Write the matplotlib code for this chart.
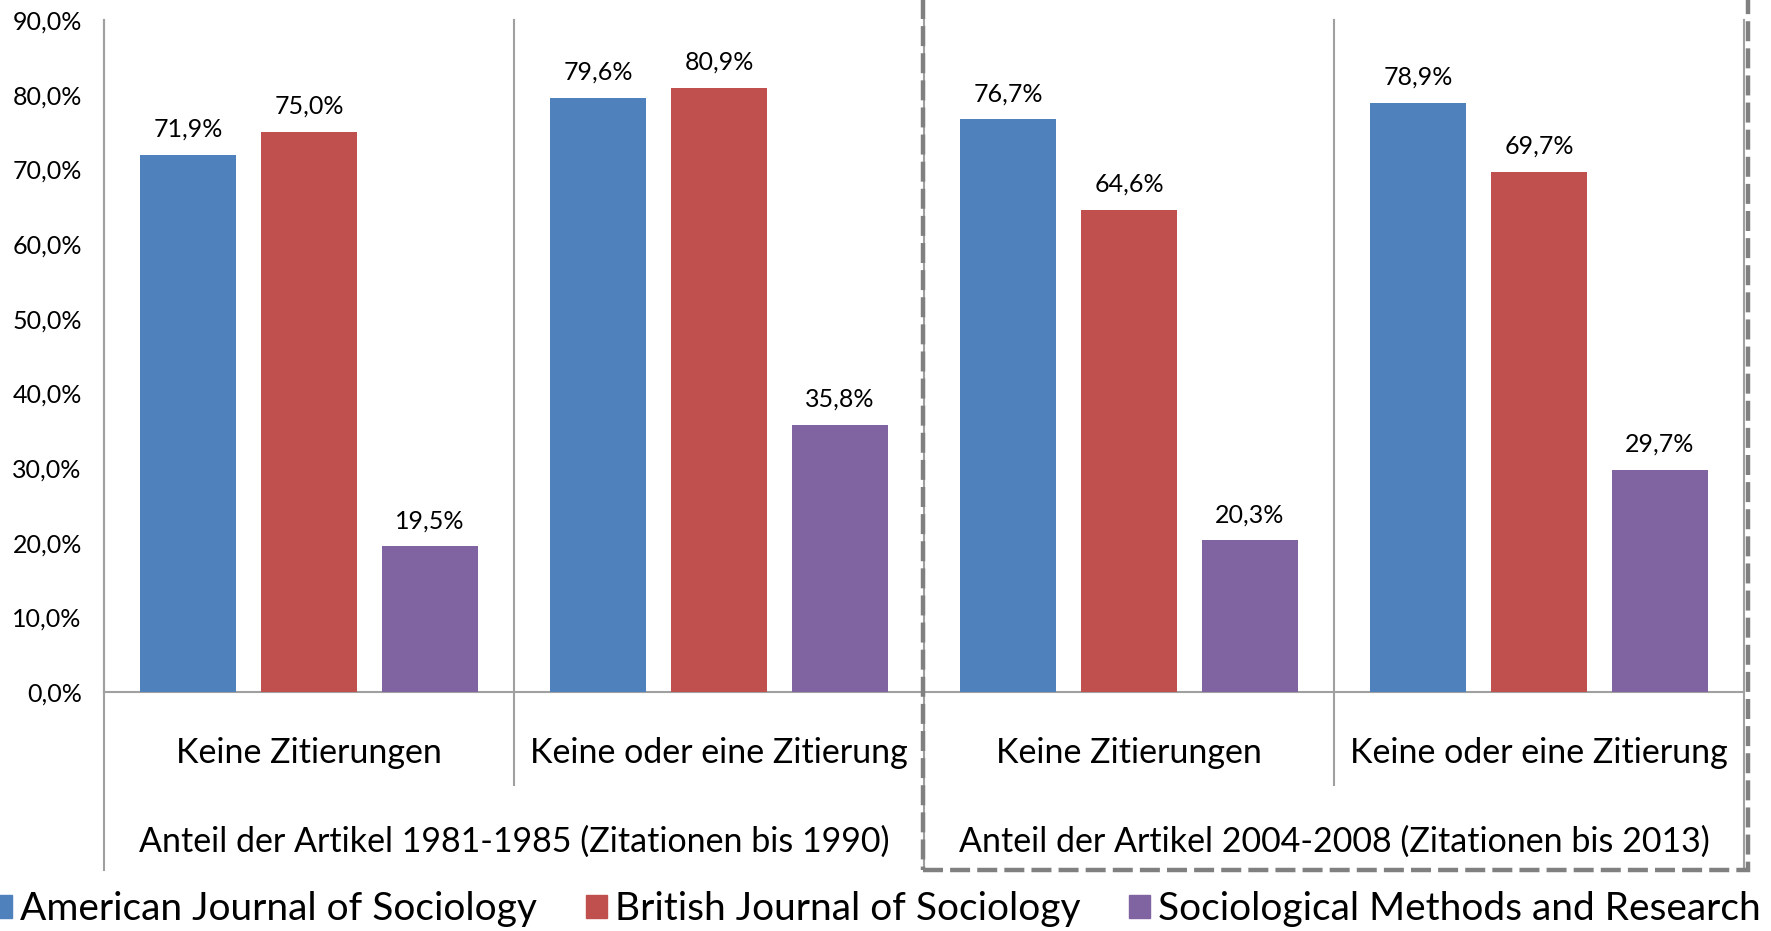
import numpy as np
import matplotlib.pyplot as plt
from matplotlib.patches import Rectangle, Patch
from matplotlib.transforms import blended_transform_factory

plt.rcParams['font.family'] = ['Lato', 'DejaVu Sans']

# data
categories = ['Keine Zitierungen', 'Keine oder eine Zitierung',
              'Keine Zitierungen', 'Keine oder eine Zitierung']
groups = ['Anteil der Artikel 1981-1985 (Zitationen bis 1990)',
          'Anteil der Artikel 2004-2008 (Zitationen bis 2013)']
series = ['American Journal of Sociology', 'British Journal of Sociology',
          'Sociological Methods and Research']
ajs = [71.9, 79.6, 76.7, 78.9]
bjs = [75.0, 80.9, 64.6, 69.7]
smr = [19.5, 35.8, 20.3, 29.7]
colors = ['#4F81BD', '#C0504D', '#8064A2']

W, H = 1771, 931
fig = plt.figure(figsize=(W / 100, H / 100), dpi=100)
ax = fig.add_axes([104 / W, 1 - 692 / H, (1744 - 104) / W, (692 - 20) / H])

x = np.arange(len(categories)) + 0.5
offsets = [-0.295, 0, 0.295]
for vals, off, c in zip([ajs, bjs, smr], offsets, colors):
    bars = ax.bar(x + off, vals, width=0.234, color=c, zorder=3)
    for b, v in zip(bars, vals):
        ax.text(b.get_x() + b.get_width() / 2, v + 1.9, f'{v:.1f}%'.replace('.', ','),
                ha='center', va='bottom', fontsize=18)

ax.set_xlim(0, 4)
ax.set_ylim(0, 90)
ax.set_yticks(np.arange(0, 91, 10))
ax.set_yticklabels([f'{t:.1f}%'.replace('.', ',') for t in np.arange(0, 91, 10)])
ax.tick_params(axis='y', length=0, pad=16, labelsize=18)
ax.set_xticks([])
for s in ['top', 'right']:
    ax.spines[s].set_visible(False)
for s in ['left', 'bottom']:
    ax.spines[s].set_color('#A0A0A0')
    ax.spines[s].set_linewidth(1.5)

# category axis separators (multi-level)
tr = blended_transform_factory(ax.transData, ax.transAxes)
for xs, ybot in [(0, -0.265), (1, -0.138), (2, -0.265), (3, -0.138), (4, -0.265)]:
    ax.plot([xs, xs], [ybot, 1], transform=tr, color='#A0A0A0', lw=1.5,
            clip_on=False, zorder=1)

for xi, lab in zip(x, categories):
    ax.text(xi, -0.091, lab, transform=tr, ha='center', va='center', fontsize=24.5)
for gi, lab in enumerate(groups):
    ax.text(1 + 2 * gi, -0.223, lab, transform=tr, ha='center', va='center', fontsize=24.5)

# dashed highlight box
fig.patches.append(Rectangle((923 / W, 1 - 870 / H), (1748 - 923) / W, 880 / H,
                             transform=fig.transFigure, fill=False, edgecolor='#808080',
                             lw=3.2, linestyle=(0, (4.5, 1.6)), zorder=5))

handles = [Patch(color=c) for c in colors]
fig.legend(handles, series, loc='center', bbox_to_anchor=(876 / W, 1 - 909 / H),
           ncol=3, frameon=False, fontsize=28, handlelength=0.55, handleheight=0.55,
           handletextpad=0.2, columnspacing=1.25, borderpad=0)

fig.savefig('out.png', dpi=100)
